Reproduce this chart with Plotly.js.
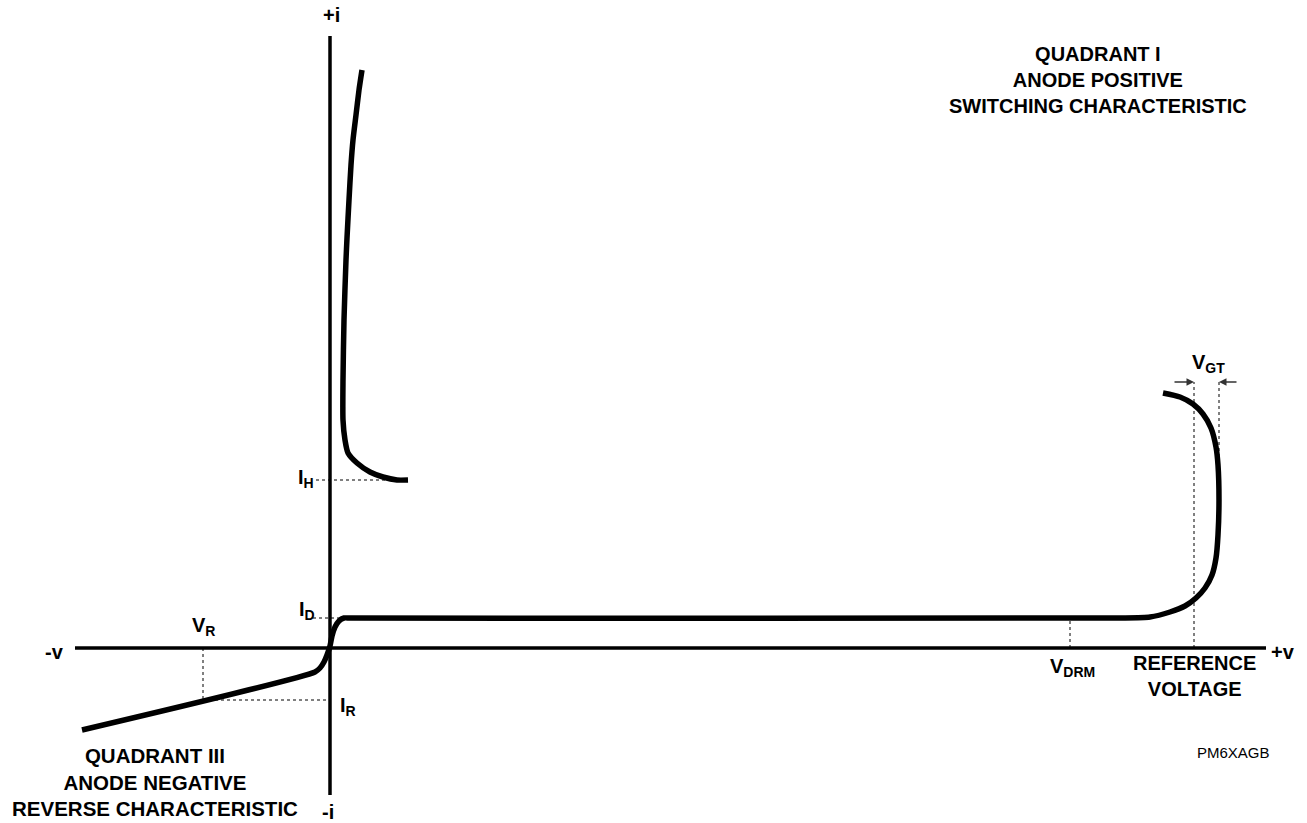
<!DOCTYPE html>
<html>
<head>
<meta charset="utf-8">
<script src="https://cdn.plot.ly/plotly-3.0.1.min.js"></script>
<style>html,body{margin:0;padding:0;background:#fff;}#chart{width:1307px;height:823px;}</style>
</head>
<body>
<div id="chart"></div>
<script>
// Units are arbitrary (schematic characteristic): voltage (x) and current (y)

// Main characteristic: reverse region, forward blocking, switching at reference voltage
const mainV = [-24.8, -1.5, -1.0, -0.6, -0.3, 0.0, 0.2, 0.5, 0.9, 1.4, 2.0, 79.0, 82.0, 84.0, 85.5, 86.6, 87.5, 88.2, 88.6, 88.8, 88.9, 88.8, 88.6, 88.1, 87.3, 86.3, 85.0, 83.3];
const mainI = [-8.2, -2.4, -2.0, -1.4, -0.7, 0.2, 1.2, 2.1, 2.7, 3.0, 3.0, 3.0, 3.1, 3.6, 4.2, 5.0, 6.0, 7.3, 9.0, 11.3, 14.8, 18.3, 20.1, 22.0, 23.4, 24.4, 25.1, 25.5];

// On-state / holding curve
const holdV = [3.2, 2.9, 2.6, 2.3, 2.1, 1.9, 1.7, 1.6, 1.4, 1.3, 1.3, 1.5, 1.8, 2.7, 4.0, 5.3, 6.7, 7.8];
const holdI = [57.8, 55.8, 53.3, 50.8, 48.3, 44.8, 41.0, 38.8, 32.8, 26.8, 22.8, 20.8, 19.5, 18.5, 17.6, 17.1, 16.8, 16.8];

// Axes of the diagram
const vAxisExtent = [-25.5, 93.6];
const iAxisExtent = [-14.7, 61.2];

// Reference levels
const I_H = 16.8, I_D = 3.0, V_R = -12.7, I_R = -5.2, V_DRM = 74.0;
const V_GT_left = 86.4, V_GT_right = 88.9, V_GT_top = 26.6;

const blk = '#000';
const fontFam = '"Liberation Sans", Arial, Helvetica, sans-serif';

function dotted(x, y){
  return {x:x, y:y, mode:'lines', line:{color:blk, width:1, dash:'dot'}, hoverinfo:'skip', showlegend:false};
}

const traces = [
  // axes
  {x: vAxisExtent, y:[0,0], mode:'lines', line:{color:blk, width:3.5}, hoverinfo:'skip', showlegend:false},
  {x:[0,0], y: iAxisExtent, mode:'lines', line:{color:blk, width:3.5}, hoverinfo:'skip', showlegend:false},
  // reference dotted lines
  dotted([-1.4, 7.0], [I_H, I_H]),
  dotted([-1.7, 1.3], [I_D, I_D]),
  dotted([V_R, V_R], [0, I_R]),
  dotted([V_R, 0], [I_R, I_R]),
  dotted([V_DRM, V_DRM], [0, I_D]),
  dotted([V_GT_left, V_GT_left], [0, V_GT_top]),
  dotted([V_GT_right, V_GT_right], [V_GT_top, 18.0]),
  // curves
  {x: mainV, y: mainI, mode:'lines', line:{color:blk, width:5.5, shape:'spline', smoothing:0.6}, hoverinfo:'skip', showlegend:false},
  {x: holdV, y: holdI, mode:'lines', line:{color:blk, width:5.5, shape:'spline', smoothing:0.6}, hoverinfo:'skip', showlegend:false}
];

function lab(text, x, y, xanchor, yanchor, size, bold){
  return {text:text, x:x, y:y, xref:'x', yref:'y', showarrow:false, xanchor:xanchor||'center', yanchor:yanchor||'middle',
    align:'center', font:{family:fontFam, size:size||20, color:blk, weight: bold===false ? 'normal' : 'bold'}};
}

const annotations = [
  lab('+i', 0.1, 63.3),
  lab('-i', -0.2, -16.4),
  lab('-v', -27.6, -0.4),
  lab('+v', 95.3, -0.4),
  lab('V<sub>R</sub>', -14.0, 2.2, 'left'),
  lab('I<sub>D</sub>', -3.3, 3.8, 'left'),
  lab('I<sub>H</sub>', -3.4, 17.0, 'left'),
  lab('I<sub>R</sub>', 0.8, -5.8, 'left'),
  lab('V<sub>DRM</sub>', 71.8, -1.9, 'left'),
  lab('V<sub>GT</sub>', 86.0, 28.5, 'left'),
  lab('REFERENCE<br>VOLTAGE', 86.4, -2.8),
  lab('QUADRANT I<br>ANODE POSITIVE<br>SWITCHING CHARACTERISTIC', 76.8, 56.8),
  lab('QUADRANT III<br>ANODE NEGATIVE<br>REVERSE CHARACTERISTIC', -17.5, -13.4, 'center', 'middle', 20.5),
  lab('PM6XAGB', 90.3, -10.4, 'center', 'middle', 15, false),
  // V_GT arrows
  {x: V_GT_left, y: V_GT_top, ax: 84.3, ay: V_GT_top, xref:'x', yref:'y', axref:'x', ayref:'y', text:'', showarrow:true,
    arrowhead:2, arrowsize:1, arrowwidth:1.5, arrowcolor:'#333'},
  {x: V_GT_right, y: V_GT_top, ax: 90.8, ay: V_GT_top, xref:'x', yref:'y', axref:'x', ayref:'y', text:'', showarrow:true,
    arrowhead:2, arrowsize:1, arrowwidth:1.5, arrowcolor:'#333'}
];

const layout = {
  width:1307, height:823,
  margin:{l:0, r:0, t:0, b:0},
  paper_bgcolor:'#fff', plot_bgcolor:'#fff',
  xaxis:{range:[-33.0, 97.7], visible:false, fixedrange:true},
  yaxis:{range:[-17.5, 64.8], visible:false, fixedrange:true},
  showlegend:false,
  annotations: annotations
};

Plotly.newPlot('chart', traces, layout, {displayModeBar:false, staticPlot:true});
</script>
</body>
</html>
